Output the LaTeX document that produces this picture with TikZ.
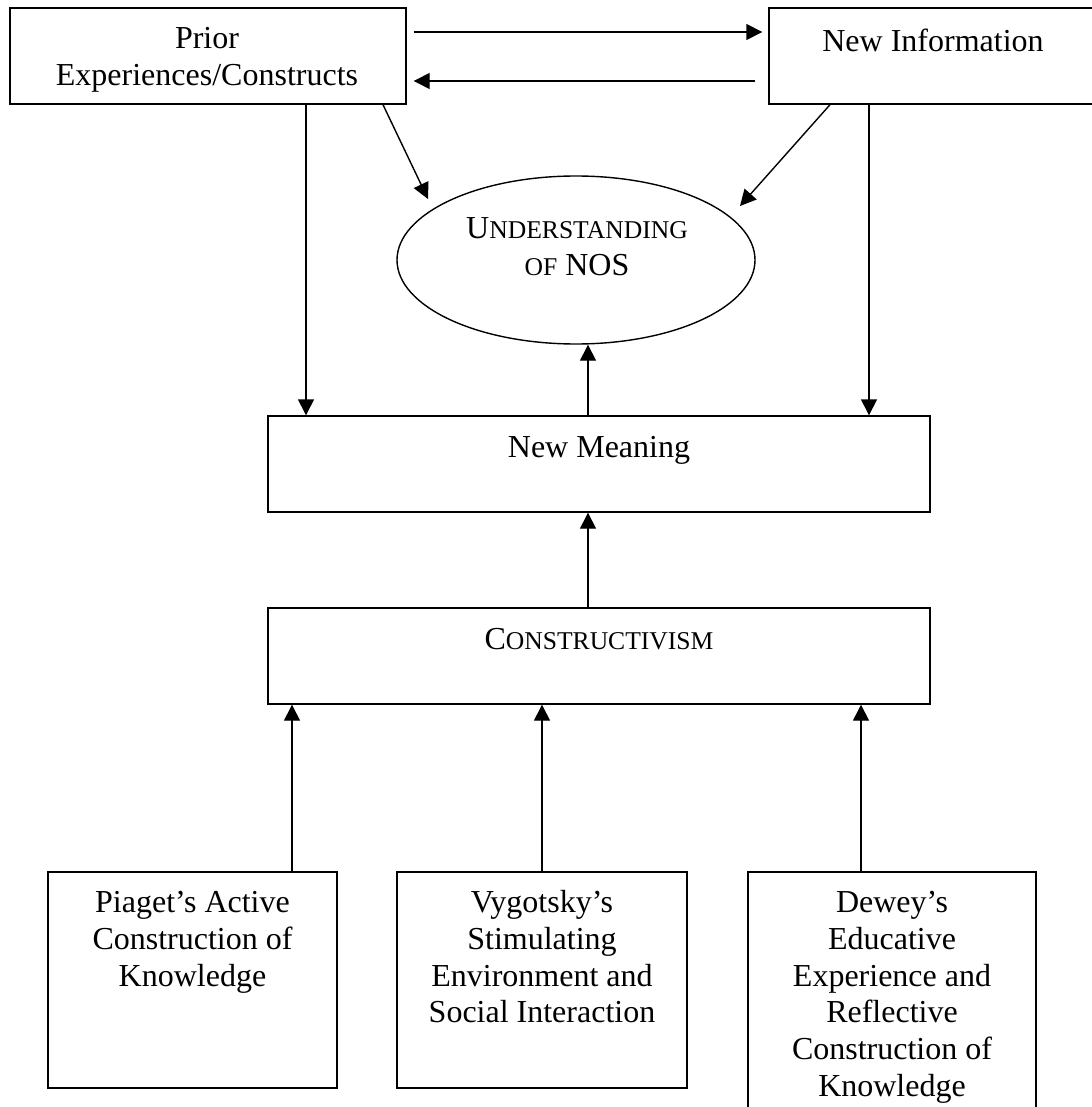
\documentclass[tikz,border=0pt]{standalone}
\usepackage{fontspec}
\setmainfont{Liberation Serif}
\usetikzlibrary{arrows.meta,shapes.geometric}
\newcommand{\fsc}[1]{{\fontsize{12.8}{14}\selectfont #1}}
\newcommand{\fst}{\rule{0pt}{12pt}}
\begin{document}
\begin{tikzpicture}[x=0.5pt,y=-0.5pt,
  box/.style={draw, line width=0.7pt, rectangle, inner sep=0pt},
  oval/.style={draw, line width=0.7pt, ellipse, inner sep=0pt},
  txt/.style={anchor=north, inner sep=0pt, align=center, font=\fontsize{16}{18.4}\selectfont},
  arr/.style={line width=0.7pt, -{Triangle[length=8pt,width=8pt]}}]
\path[fill=white] (0,0) rectangle (1091,1107);
\useasboundingbox (0,0) rectangle (1091,1107);
% boxes
\node[box, minimum width=198pt, minimum height=48pt] (prior) at (208,56) {};
\node[box, minimum width=164pt, minimum height=48pt] (newinfo) at (933,56) {};
\node[oval, minimum width=179pt, minimum height=84pt] (nos) at (576,260) {};
\node[box, minimum width=331pt, minimum height=48pt] (meaning) at (599,464) {};
\node[box, minimum width=331pt, minimum height=48pt] (constr) at (599,656) {};
\node[box, minimum width=144.5pt, minimum height=108pt] (piaget) at (192.5,980) {};
\node[box, minimum width=145pt, minimum height=108pt] (vygotsky) at (542,980) {};
\node[box, minimum width=144pt, minimum height=129pt] (dewey) at (892,1001) {};
% texts
\node[txt] (priorT) at (207,24) {\fst Prior\\Experiences/Constructs};
\node[txt] (newinfoT) at (933,27) {\fst New Information};
\node[txt] (nosT) at (577,214) {\fst U\fsc{NDERSTANDING}\\\fsc{OF} NOS};
\node[txt] (meaningT) at (599,433) {\fst New Meaning};
\node[txt] (constrT) at (599,625) {\fst C\fsc{ONSTRUCTIVISM}};
\node[txt] (piagetT) at (192.5,888) {\fst Piaget’s Active\\Construction of\\Knowledge};
\node[txt] (vygotskyT) at (542,888) {\fst Vygotsky’s\\Stimulating\\Environment and\\Social Interaction};
\node[txt] (deweyT) at (892,888) {\fst Dewey’s\\Educative\\Experience and\\Reflective\\Construction of\\Knowledge};
% helper coordinates
\coordinate (r32) at (0,32);
\coordinate (r81) at (0,81);
\coordinate (c306) at (306,0);
\coordinate (c383) at (383,0);
\coordinate (c830) at (830,0);
\coordinate (c869) at (869,0);
\coordinate (c588) at (588,0);
\coordinate (c292) at (292,0);
\coordinate (c861) at (861,0);
\coordinate (t1) at (428,199);
\coordinate (t2) at (740,206);
% connectors
\draw[arr, shorten <=3.5pt, shorten >=3pt] (prior.east |- r32) -- (newinfo.west |- r32);
\draw[arr, shorten <=6.5pt, shorten >=3.5pt] (newinfo.west |- r81) -- (prior.east |- r81);
\draw[arr] (prior.south -| c306) -- (meaning.north -| c306);
\draw[arr] (prior.south -| c383) -- (t1);
\draw[arr] (newinfo.south -| c830) -- (t2);
\draw[arr] (newinfo.south -| c869) -- (meaning.north -| c869);
\draw[arr] (meaning.north -| c588) -- (nos.south -| c588);
\draw[arr] (constr.north -| c588) -- (meaning.south -| c588);
\draw[arr] (piaget.north -| c292) -- (constr.south -| c292);
\draw[arr] (vygotsky.north) -- (constr.south -| vygotsky.north);
\draw[arr] (dewey.north -| c861) -- (constr.south -| c861);
\end{tikzpicture}
\end{document}
